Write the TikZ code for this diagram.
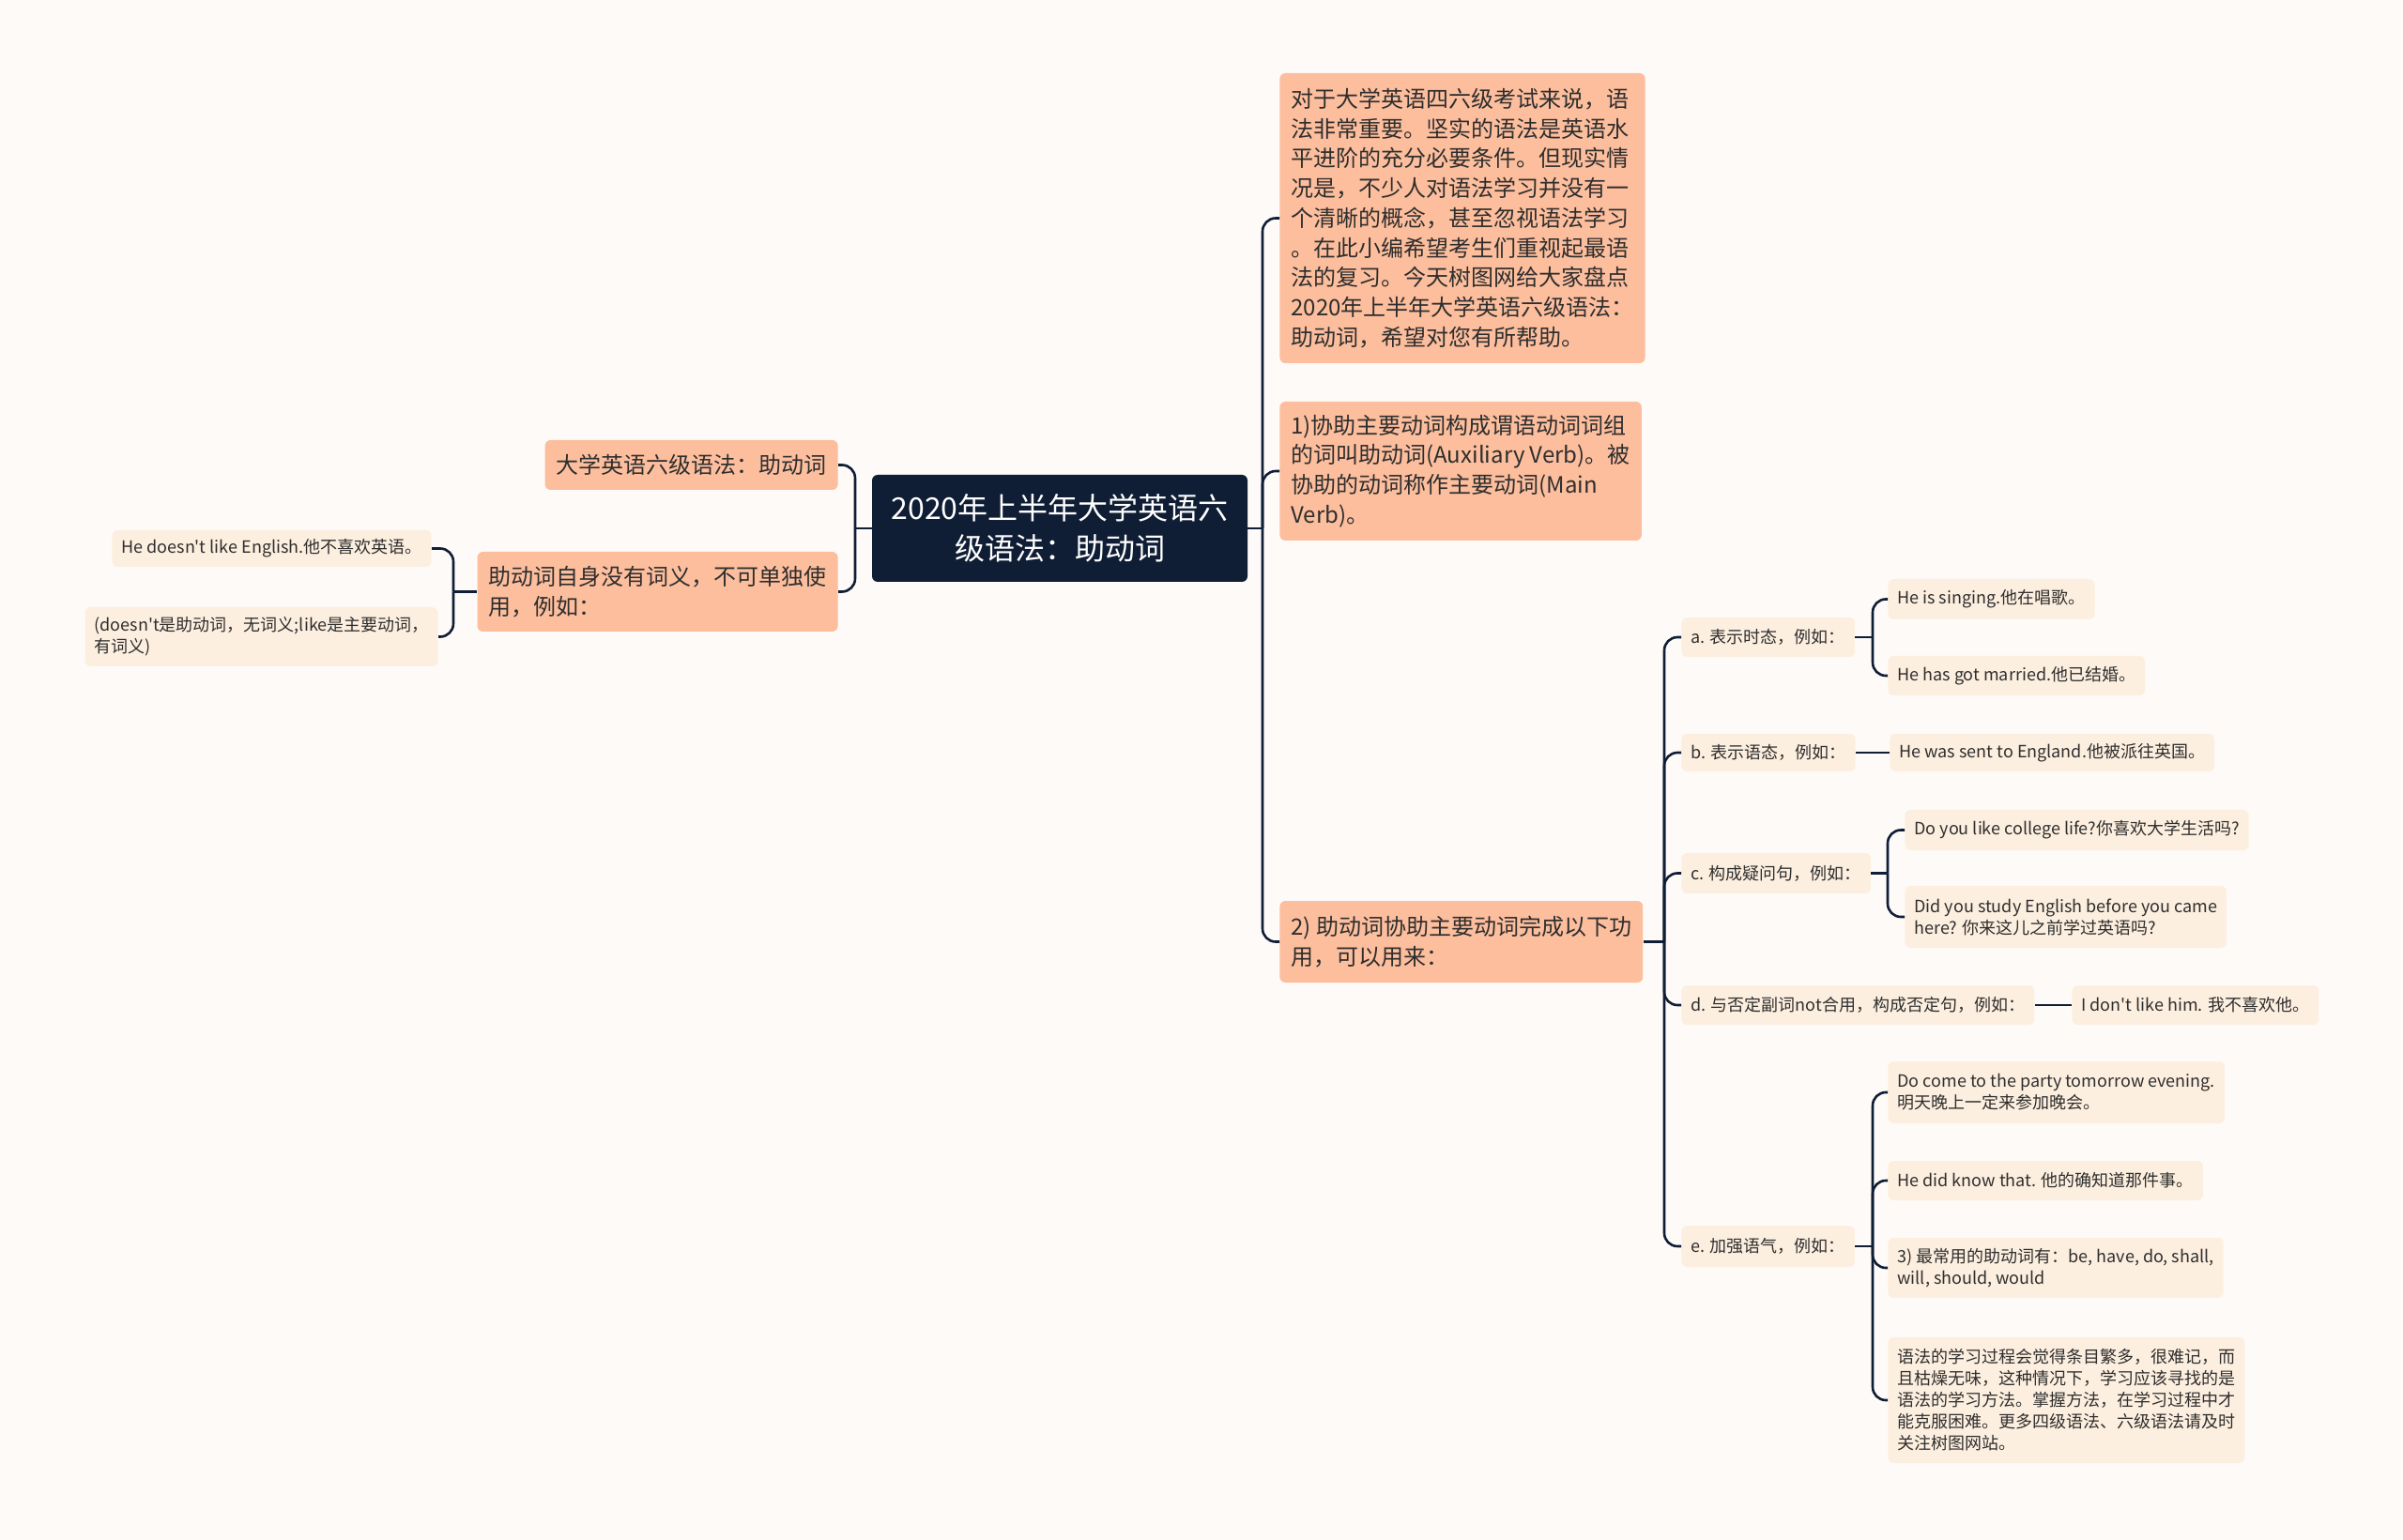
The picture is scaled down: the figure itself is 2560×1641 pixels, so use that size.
\documentclass[tikz,border=0pt]{standalone}
\usepackage{fontspec}
\setmainfont{Noto Sans CJK SC}[Ligatures=TeXOff]
\usepackage{xcolor}
\definecolor{mapNavy}{HTML}{0F1D35}
\definecolor{mapPeach}{HTML}{FCBE9D}
\definecolor{mapCream}{HTML}{FDEFDF}
\definecolor{mapInk}{HTML}{2E2E2E}
\definecolor{mapBack}{HTML}{FEFAF8}
\usepackage{tikz}
\usetikzlibrary{positioning,calc}

\begin{document}
\begin{tikzpicture}[x=0.5pt, y=-0.5pt,
  rootbox/.style={fill=mapNavy, text=white, rounded corners=3pt, align=center,
                  font=\fontsize{16}{21.7}\selectfont, minimum width=200pt, minimum height=57pt},
  lvone/.style={fill=mapPeach, text=mapInk, rounded corners=3pt, align=left,
                font=\fontsize{12}{15.85}\selectfont, inner xsep=6pt},
  lvtwo/.style={fill=mapCream, text=mapInk, rounded corners=3pt, align=left,
                font=\fontsize{9}{11.5}\selectfont, inner xsep=5pt},
  link/.style={draw=mapNavy, line width=1.3pt, rounded corners=7pt}
]
\fill[mapBack] (0,0) rectangle (2560,1641);
\useasboundingbox (0,0) rectangle (2560,1641);

\node[rootbox] (root) at (1129,563) {2020年上半年大学英语六\\级语法：助动词};

\node[lvone, anchor=west, minimum height=154.5pt] (intro) at (1363,232.5) {对于大学英语四六级考试来说，语\\法非常重要。坚实的语法是英语水\\平进阶的充分必要条件。但现实情\\况是，不少人对语法学习并没有一\\个清晰的概念，甚至忽视语法学习\\。在此小编希望考生们重视起最语\\法的复习。今天树图网给大家盘点\\2020年上半年大学英语六级语法：\\助动词，希望对您有所帮助。};
\node[lvone, anchor=west, minimum height=74pt] (one) at (1363,502) {1)协助主要动词构成谓语动词词组\\的词叫助动词(Auxiliary Verb)。被\\协助的动词称作主要动词(Main\\Verb)。};
\node[lvone, anchor=west, minimum height=43.5pt] (two) at (1363,1003.5) {2) 助动词协助主要动词完成以下功\\用，可以用来：};

\node[lvone, anchor=east, minimum height=26.5pt] (title) at (893,495.5) {大学英语六级语法：助动词};
\node[lvone, anchor=east, minimum height=42.5pt] (nomean) at (893,630.5) {助动词自身没有词义，不可单独使\\用，例如：};
\node[lvtwo, anchor=east, minimum height=19.5pt] (exlike) at (460,584.5) {He doesn't like English.他不喜欢英语。};
\node[lvtwo, anchor=east, minimum height=31.5pt] (exnote) at (467,678.5) {(doesn't是助动词，无词义;like是主要动词，\\有词义)};

\node[lvtwo, anchor=west, minimum height=21pt] (tense) at (1791,679) {a. 表示时态，例如：};
\node[lvtwo, anchor=west, minimum height=20pt] (voice) at (1791,802) {b. 表示语态，例如：};
\node[lvtwo, anchor=west, minimum height=21.5pt] (quest) at (1791,930.5) {c. 构成疑问句，例如：};
\node[lvtwo, anchor=west, minimum height=21pt] (negat) at (1791,1071) {d. 与否定副词not合用，构成否定句，例如：};
\node[lvtwo, anchor=west, minimum height=22pt] (stress) at (1791,1328) {e. 加强语气，例如：};

\node[lvtwo, anchor=west, minimum height=21.5pt] (tenseA) at (2011,638.5) {He is singing.他在唱歌。};
\node[lvtwo, anchor=west, minimum height=21pt] (tenseB) at (2011,720) {He has got married.他已结婚。};
\node[lvtwo, anchor=west, minimum height=20pt] (voiceA) at (2013,802) {He was sent to England.他被派往英国。};
\node[lvtwo, anchor=west, minimum height=21.5pt] (questA) at (2029,884.5) {Do you like college life?你喜欢大学生活吗?};
\node[lvtwo, anchor=west, minimum height=33pt] (questB) at (2029,977) {Did you study English before you came\\here? 你来这儿之前学过英语吗?};
\node[lvtwo, anchor=west, minimum height=21pt] (negatA) at (2207,1071) {I don't like him. 我不喜欢他。};
\node[lvtwo, anchor=west, minimum height=33pt] (stressA) at (2011,1164) {Do come to the party tomorrow evening.\\明天晚上一定来参加晚会。};
\node[lvtwo, anchor=west, minimum height=21pt] (stressB) at (2011,1258) {He did know that. 他的确知道那件事。};
\node[lvtwo, anchor=west, minimum height=32pt] (stressC) at (2011,1351) {3) 最常用的助动词有：be, have, do, shall,\\will, should, would};
\node[lvtwo, anchor=west, minimum height=67pt] (stressD) at (2011,1492) {语法的学习过程会觉得条目繁多，很难记，而\\且枯燥无味，这种情况下，学习应该寻找的是\\语法的学习方法。掌握方法，在学习过程中才\\能克服困难。更多四级语法、六级语法请及时\\关注树图网站。};

\coordinate (rootR) at (1345,563);
\coordinate (rootL) at (911,563);
\coordinate (nomeanJ) at (483,630.5);
\coordinate (twoJ) at (1773,1003.5);
\coordinate (tenseJ) at (1995,679);
\coordinate (questJ) at (2011,930.5);
\coordinate (stressJ) at (1995,1328);

\draw[link] (root.east) -- (rootR);
\foreach \kid in {intro,one,two} \draw[link] (rootR) |- (\kid.west);
\draw[link] (root.west) -- (rootL);
\foreach \kid in {title,nomean} \draw[link] (rootL) |- (\kid.east);
\draw[link] (nomean.west) -- (nomeanJ);
\foreach \kid in {exlike,exnote} \draw[link] (nomeanJ) |- (\kid.east);
\draw[link] (two.east) -- (twoJ);
\foreach \kid in {tense,voice,quest,negat,stress} \draw[link] (twoJ) |- (\kid.west);
\draw[link] (tense.east) -- (tenseJ);
\foreach \kid in {tenseA,tenseB} \draw[link] (tenseJ) |- (\kid.west);
\draw[link] (voice.east) -- (voiceA.west);
\draw[link] (quest.east) -- (questJ);
\foreach \kid in {questA,questB} \draw[link] (questJ) |- (\kid.west);
\draw[link] (negat.east) -- (negatA.west);
\draw[link] (stress.east) -- (stressJ);
\foreach \kid in {stressA,stressB,stressC,stressD} \draw[link] (stressJ) |- (\kid.west);
\end{tikzpicture}
\end{document}
